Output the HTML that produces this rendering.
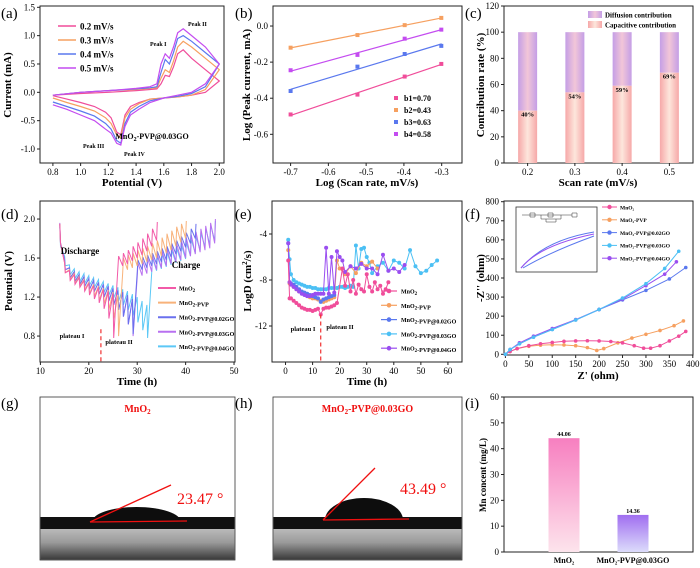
<!DOCTYPE html>
<html><head><meta charset="utf-8"><style>
html,body{margin:0;padding:0;background:#fff;}
svg{display:block;font-family:"Liberation Serif",serif;}
</style></head><body>
<svg id="fig" width="700" height="568" viewBox="0 0 700 568" xmlns="http://www.w3.org/2000/svg">
<defs>
<linearGradient id="capG" x1="0" x2="1" y1="0" y2="0"><stop offset="0" stop-color="#f6a8a8"/><stop offset="0.5" stop-color="#fde6dc"/><stop offset="1" stop-color="#f6a8a8"/></linearGradient>
<linearGradient id="difG" x1="0" x2="1" y1="0" y2="0"><stop offset="0" stop-color="#c49ee6"/><stop offset="0.5" stop-color="#f2c6d8"/><stop offset="1" stop-color="#c49ee6"/></linearGradient>
<linearGradient id="mnG" x1="0" x2="0" y1="0" y2="1"><stop offset="0" stop-color="#f77fc0"/><stop offset="1" stop-color="#fde4ec"/></linearGradient>
<linearGradient id="goG" x1="0" x2="0" y1="0" y2="1"><stop offset="0" stop-color="#a06ef0"/><stop offset="1" stop-color="#dcdcfb"/></linearGradient>
<linearGradient id="sub" x1="0" x2="0" y1="0" y2="1"><stop offset="0" stop-color="#f4f4f4"/><stop offset="0.3" stop-color="#b8b8b8"/><stop offset="0.6" stop-color="#9a9a9a"/><stop offset="1" stop-color="#3a3a3a"/></linearGradient>
</defs>
</svg>
<script>
// ---- data (a) CV ----
const cvFwdV=[0.8,1.0,1.2,1.4,1.5,1.55,1.58,1.61,1.64,1.67,1.70,1.74,1.8,1.9,2.0];
const cvBackV=[2.0,1.9,1.8,1.7,1.6,1.5,1.42,1.36,1.32,1.29,1.26,1.22,1.18,1.1,1.0,0.9,0.8];
const cvRates=['0.2 mV/s','0.3 mV/s','0.4 mV/s','0.5 mV/s'];
const cvFwd02=[-0.05,-0.02,0.0,0.03,0.05,0.06,0.15,0.3,0.28,0.45,0.68,0.75,0.6,0.4,0.2];
const cvBack02=[0.2,0.0,-0.05,-0.08,-0.1,-0.12,-0.18,-0.25,-0.4,-0.75,-0.7,-0.45,-0.35,-0.25,-0.18,-0.12,-0.06];
const cvFwd03=[-0.05,0.0,0.03,0.05,0.07,0.08,0.25,0.4,0.35,0.55,0.8,0.9,0.8,0.6,0.4];
const cvBack03=[0.4,0.05,-0.05,-0.08,-0.1,-0.12,-0.2,-0.3,-0.45,-0.8,-0.75,-0.55,-0.45,-0.33,-0.25,-0.18,-0.1];
const cvFwd04=[-0.05,0.0,0.03,0.06,0.08,0.1,0.35,0.58,0.5,0.7,0.95,1.0,0.9,0.7,0.5];
const cvBack04=[0.5,0.1,-0.02,-0.07,-0.1,-0.15,-0.25,-0.35,-0.55,-0.9,-0.85,-0.65,-0.55,-0.42,-0.33,-0.25,-0.17];
const cvFwd05=[-0.05,0.0,0.03,0.07,0.1,0.15,0.5,0.68,0.6,0.8,1.05,1.12,1.0,0.8,0.5];
const cvBack05=[0.5,0.15,0.0,-0.05,-0.1,-0.18,-0.3,-0.4,-0.6,-0.93,-0.9,-0.72,-0.65,-0.5,-0.4,-0.3,-0.22];
// ---- (b) ----
const bX=[-0.7,-0.523,-0.398,-0.301];
const bLabels=['b1=0.70','b2=0.43','b3=0.63','b4=0.58'];
const b1=[-0.49,-0.38,-0.28,-0.21];
const b2=[-0.12,-0.05,0.005,0.045];
const b3=[-0.36,-0.225,-0.155,-0.11];
const b4=[-0.245,-0.16,-0.07,-0.02];
// ---- (c) ----
const cCats=['0.2','0.3','0.4','0.5'];
const cCap=[40,54,59,69];
// ---- (d) GITT ----
const dNames=['MnO2','MnO2-PVP','MnO2-PVP@0.02GO','MnO2-PVP@0.03GO','MnO2-PVP@0.04GO'];
const dT1=[14,15,16,17,18,19,20,21,22,23,24,25,26,27,28,29,30,31,32,33,34];
const dR1=[1.95,1.55,1.47,1.43,1.40,1.37,1.34,1.32,1.30,1.28,1.26,1.24,1.50,1.52,1.54,1.57,1.60,1.63,1.67,1.72,1.78];
const dP1=[1.75,1.45,1.37,1.33,1.30,1.26,1.22,1.18,1.14,1.08,0.98,0.78,1.62,1.65,1.68,1.72,1.76,1.80,1.85,1.90,1.97];
const dT2=[14,15,16,17,18,19,20,21,22,23,24,25,26,27,28,29,30,31,32,33,34,35,36,37,38,39,40];
const dR2=[1.95,1.55,1.48,1.44,1.41,1.38,1.35,1.33,1.31,1.29,1.27,1.25,1.22,1.45,1.48,1.50,1.52,1.54,1.56,1.58,1.60,1.62,1.65,1.68,1.72,1.76,1.80];
const dP2=[1.75,1.45,1.38,1.34,1.31,1.28,1.24,1.21,1.17,1.13,1.07,0.98,0.80,1.60,1.63,1.65,1.68,1.70,1.72,1.75,1.78,1.81,1.85,1.88,1.92,1.95,1.98];
const dT3=[14,15,16,17,18,19,20,21,22,23,24,25,26,27,28,29,30,31,32,33,34,35,36,37,38,39,40,41,42];
const dR3=[1.95,1.58,1.50,1.46,1.43,1.41,1.39,1.37,1.35,1.33,1.31,1.29,1.27,1.25,1.22,1.18,1.45,1.48,1.50,1.52,1.54,1.56,1.58,1.61,1.64,1.67,1.71,1.75,1.80];
const dP3=[1.75,1.48,1.40,1.36,1.33,1.31,1.28,1.26,1.23,1.20,1.16,1.12,1.07,1.00,0.92,0.82,1.58,1.61,1.63,1.65,1.67,1.70,1.72,1.75,1.78,1.82,1.86,1.90,1.95];
const dT4=[14,15,16,17,18,19,20,21,22,23,24,25,26,27,28,29,30,31,32,33,34,35,36,37,38,39,40,41,42,43,44,45,46];
const dR4=[1.96,1.58,1.50,1.46,1.43,1.41,1.39,1.37,1.35,1.33,1.31,1.29,1.27,1.25,1.22,1.18,1.40,1.42,1.44,1.46,1.48,1.50,1.52,1.54,1.56,1.58,1.60,1.62,1.64,1.66,1.68,1.70,1.75];
const dP4=[1.76,1.48,1.40,1.36,1.33,1.31,1.28,1.26,1.23,1.20,1.16,1.12,1.07,1.00,0.92,0.80,1.55,1.57,1.60,1.62,1.64,1.67,1.70,1.72,1.75,1.78,1.81,1.84,1.87,1.90,1.93,1.96,2.00];
const dT5=[14,15,16,17,18,19,20,21,22,23,24,25,26,27,28,29,30,31,32,33,34,35,36,37,38,39,40,41,42,43,44,45,46];
const dR5=[1.92,1.62,1.53,1.49,1.46,1.44,1.42,1.40,1.38,1.36,1.34,1.32,1.30,1.28,1.26,1.23,1.20,1.16,1.12,1.45,1.47,1.49,1.51,1.53,1.55,1.57,1.59,1.62,1.65,1.68,1.71,1.74,1.78];
const dP5=[1.72,1.52,1.43,1.39,1.36,1.34,1.32,1.30,1.28,1.25,1.22,1.19,1.16,1.12,1.07,1.01,0.94,0.86,0.78,1.60,1.62,1.64,1.66,1.68,1.70,1.73,1.76,1.79,1.82,1.86,1.90,1.94,1.98];
// ---- (e) logD ----
const eT1=[1,1.5,2,3,4,5,6,7,8,9,10,11,12,13,14,15,16,17,18,19,21,22,23,24,25,26,27,28,29,30,31,32,33,34,35,36,37,38];
const eV1=[-6.3,-9.6,-9.6,-9.8,-10.0,-10.2,-10.4,-10.5,-10.6,-10.6,-10.7,-10.6,-10.5,-11.0,-10.5,-10.4,-10.4,-10.3,-10.2,-10.0,-7.0,-8.5,-7.5,-9.0,-8.0,-9.2,-8.4,-8.8,-9.0,-7.5,-8.6,-9.0,-8.2,-8.8,-8.5,-9.2,-8.8,-8.2];
const eT2=[1,1.5,2,3,4,5,6,7,8,9,10,11,12,13,14,15,16,17,18,19,20,22,24,26,28,30,32,34];
const eV2=[-5.4,-8.3,-8.4,-8.6,-8.8,-9.0,-9.1,-9.2,-9.4,-9.5,-9.6,-9.6,-9.7,-9.8,-9.9,-9.8,-9.7,-9.6,-9.5,-6.3,-7.0,-7.5,-6.8,-7.4,-6.5,-6.8,-6.4,-7.0];
const eT3=[1,1.5,2,3,4,5,6,7,8,9,10,11,12,13,14,15,16,17,18];
const eV3=[-4.8,-8.2,-8.3,-8.4,-8.6,-8.8,-9.0,-9.1,-9.2,-9.3,-9.4,-9.5,-9.6,-9.9,-9.7,-9.6,-9.5,-9.4,-9.3];
const eT4=[1,1.5,2,3,4,5,6,7,8,9,10,11,12,13,14,15,16,17,18,19,20,21,22,23,24,25,26,27,28,29,30,31,32,34,36,38,40,42,44,46,48,50,52,54,56];
const eV4=[-4.5,-6.2,-7.5,-8.0,-8.2,-8.3,-8.4,-8.5,-8.6,-8.6,-8.7,-8.7,-8.8,-8.8,-8.8,-8.8,-8.7,-8.7,-8.7,-8.7,-8.6,-8.6,-8.7,-8.6,-8.5,-8.6,-5.0,-7.0,-5.3,-5.2,-6.0,-6.5,-7.4,-6.8,-6.5,-7.2,-6.3,-6.5,-7.0,-5.4,-6.8,-7.4,-7.2,-6.7,-6.3];
const eT5=[1,1.5,2,3,4,5,6,7,8,9,10,11,12,13,14,15,16,17,18,19,20,21,22,24,26,28,30,32,34,36,38,40,42,44];
const eV5=[-4.8,-8.2,-8.4,-8.6,-8.8,-9.0,-9.2,-9.3,-9.4,-9.4,-9.3,-9.2,-9.2,-9.2,-9.2,-5.2,-9.2,-6.0,-9.1,-5.5,-6.0,-6.3,-7.3,-6.8,-7.0,-6.6,-7.0,-7.0,-7.5,-5.8,-7.2,-7.0,-7.3,-6.7];
// ---- (f) Nyquist ----
const fX1=[0,10,25,50,75,100,125,150,175,200,225,250,275,295,310,330,350,370,385];
const fY1=[0,15,30,45,55,62,68,70,71,70,67,60,45,32,32,45,70,95,120];
const fX2=[0,10,25,50,75,100,125,150,175,195,210,240,270,300,330,360,380];
const fY2=[0,15,30,42,48,50,49,45,35,20,30,60,85,105,125,150,175];
const fX3=[0,10,30,60,100,150,200,250,300,350,385];
const fY3=[0,25,55,90,130,180,235,285,335,395,455];
const fX4=[0,10,30,60,100,150,200,250,300,340,370];
const fY4=[0,25,55,90,130,180,235,295,370,450,540];
const fX5=[0,10,30,60,100,150,200,250,300,340,365];
const fY5=[0,25,60,95,135,182,235,290,360,420,485];
// ---- (i) ----
const iCats=['MnO₂','MnO₂-PVP@0.03GO'];
const iVals=[44.06,14.36];

const svg=document.getElementById('fig');
const NS='http://www.w3.org/2000/svg';
function mk(tag,attrs,name,parent){
  const el=document.createElementNS(NS,tag);
  for(const k in attrs) el.setAttribute(k,attrs[k]);
  
  
  (parent||svg).appendChild(el);
  return el;
}
function txt(x,y,s,name,o){
  o=o||{};
  const t=mk('text',{x:x,y:y,'font-size':o.fs||9,'text-anchor':o.anchor||'middle','font-weight':o.fw||'normal',fill:o.fill||'#000'},name);
  if(o.rot!==undefined) t.setAttribute('transform','rotate('+o.rot+' '+x+' '+y+')');
  t.innerHTML=s;
  return t;
}
function lin(d0,d1,r0,r1){return v=>r0+(v-d0)*(r1-r0)/(d1-d0);}
function frame(b,name){mk('rect',{x:b.l,y:b.t,width:b.r-b.l,height:b.b-b.t,fill:'none',stroke:'#222','stroke-width':1},name);}
function xticks(b,vals,sx,fmt,name){vals.forEach(v=>{const x=sx(v);mk('line',{x1:x,x2:x,y1:b.b,y2:b.b+3,stroke:'#222'},name+'-tick');txt(x,b.b+12,fmt(v),name+'-label');});}
function yticks(b,vals,sy,fmt,name){vals.forEach(v=>{const y=sy(v);mk('line',{x1:b.l-3,x2:b.l,y1:y,y2:y,stroke:'#222'},name+'-tick');txt(b.l-5,y+3,fmt(v),name+'-label',{anchor:'end'});});}
function poly(xs,ys,sx,sy,col,name,w){const d=xs.map((x,i)=>(i?'L':'M')+sx(x).toFixed(1)+' '+sy(ys[i]).toFixed(1)).join(' ');return mk('path',{d:d,fill:'none',stroke:col,'stroke-width':w||1.2},name);}
function plabel(x,y,s){txt(x,y,s,'panel-label-'+s.replace(/[()]/g,''),{fs:15,anchor:'start'});}
const cPink='#f04d9a',cOr='#f6a060',cBlue='#5a78ee',cPur='#c44cf0',cCyan='#4cc0f4',cPurD='#9a4ef0';

// ===== (a) =====
(function(){
const b={l:40,r:224,t:6,b:163};
const sx=lin(0.707,2.034,b.l,b.r), sy=lin(1.523,-1.247,b.t,b.b);
frame(b,'cv-plot-frame');
xticks(b,[0.8,1.0,1.2,1.4,1.6,1.8,2.0],sx,v=>v.toFixed(1),'cv-x');
yticks(b,[-1.0,-0.5,0,0.5,1.0,1.5],sy,v=>v.toFixed(1),'cv-y');
const cols=[cPink,cOr,cBlue,cPur];
const F=[cvFwd02,cvFwd03,cvFwd04,cvFwd05], B=[cvBack02,cvBack03,cvBack04,cvBack05];
for(let k=0;k<4;k++){
  const xs=cvFwdV.concat(cvBackV), ys=F[k].concat(B[k]);
  poly(xs,ys,sx,sy,cols[k],'cv-curve-'+cvRates[k].replace(/[ \/.]/g,''));
  const ly=26+k*14;
  mk('line',{x1:58,x2:76,y1:ly,y2:ly,stroke:cols[k],'stroke-width':1.5},'legend-line');
  txt(80,ly+3.5,cvRates[k],'legend-entry',{anchor:'start',fw:'bold',fs:9});
}
txt(132,186,'Potential (V)','x-axis-title',{fw:'bold',fs:11});
txt(11,85,'Current (mA)','y-axis-title',{fw:'bold',fs:11,rot:-90});
txt(152,139,'MnO<tspan font-size="6" dy="2">2</tspan><tspan dy="-2">-PVP@0.03GO</tspan>','sample-label',{fw:'bold',fs:8});
txt(188,26,'Peak II','peak-label',{fs:6,fw:'bold',anchor:'start'});
txt(150,46,'Peak I','peak-label',{fs:6,fw:'bold',anchor:'start'});
txt(83,148,'Peak III','peak-label',{fs:6,fw:'bold',anchor:'start'});
txt(124,156,'Peak IV','peak-label',{fs:6,fw:'bold',anchor:'start'});
plabel(1,18,'(a)');
})();

// ===== (b) =====
(function(){
const b={l:273,r:462,t:6,b:163};
const sx=lin(-0.7466,-0.2462,b.l,b.r), sy=lin(0.111,-0.759,b.t,b.b);
frame(b,'b-plot-frame');
xticks(b,[-0.7,-0.6,-0.5,-0.4,-0.3],sx,v=>v.toFixed(1),'b-x');
yticks(b,[0,-0.2,-0.4,-0.6],sy,v=>v.toFixed(1),'b-y');
const S=[b1,b2,b3,b4], cols=[cPink,cOr,cBlue,cPur];
S.forEach((ys,k)=>{
  const n=ys.length, mx=bX.reduce((a,c)=>a+c,0)/n, my=ys.reduce((a,c)=>a+c,0)/n;
  let num=0,den=0; bX.forEach((x,i)=>{num+=(x-mx)*(ys[i]-my);den+=(x-mx)*(x-mx);});
  const m=num/den, c=my-m*mx;
  mk('line',{x1:sx(-0.7),y1:sy(m*-0.7+c),x2:sx(-0.3),y2:sy(m*-0.3+c),stroke:cols[k],'stroke-width':1.2},'fit-line-b'+(k+1));
  bX.forEach((x,i)=>mk('rect',{x:sx(x)-2,y:sy(ys[i])-2,width:4,height:4,fill:cols[k]},'point-b'+(k+1)));
  mk('rect',{x:394,y:96+k*12,width:4,height:4,fill:cols[k]},'legend-marker');
  txt(404,101+k*12,bLabels[k],'legend-entry',{anchor:'start',fw:'bold',fs:8});
});
txt(367,186,'Log (Scan rate, mV/s)','x-axis-title',{fw:'bold',fs:11});
txt(250,85,'Log (Peak current, mA)','y-axis-title',{fw:'bold',fs:11,rot:-90});
plabel(235,18,'(b)');
})();

// ===== (c) =====
(function(){
const b={l:504,r:693,t:6,b:163};
const sy=lin(0,120,b.b,b.t), bw=(b.r-b.l)/cCats.length;
frame(b,'c-plot-frame');
yticks(b,[0,20,40,60,80,100,120],sy,v=>v,'c-y');
cCats.forEach((c,i)=>{
  const cx=b.l+(i+0.5)*bw, w=19;
  mk('rect',{x:cx-w/2,y:sy(100),width:w,height:sy(cCap[i])-sy(100),fill:'url(#difG)'},'bar-diffusion-'+c);
  mk('rect',{x:cx-w/2,y:sy(cCap[i]),width:w,height:sy(0)-sy(cCap[i]),fill:'url(#capG)'},'bar-capacitive-'+c);
  txt(cx,sy(cCap[i])+6,cCap[i]+'%','bar-value',{fs:6.5,fw:'bold'});
  mk('line',{x1:cx,x2:cx,y1:b.b,y2:b.b+3,stroke:'#222'},'c-x-tick');
  txt(cx,b.b+12,c,'c-x-label');
});
mk('rect',{x:588,y:11,width:14,height:7,fill:'url(#difG)'},'legend-swatch-diffusion');
txt(605,17.5,'Diffusion contribution','legend-entry',{anchor:'start',fw:'bold',fs:7});
mk('rect',{x:588,y:21,width:14,height:7,fill:'url(#capG)'},'legend-swatch-capacitive');
txt(605,27.5,'Capacitive contribution','legend-entry',{anchor:'start',fw:'bold',fs:7});
txt(598,186,'Scan rate (mV/s)','x-axis-title',{fw:'bold',fs:11});
txt(484,85,'Contribution rate (%)','y-axis-title',{fw:'bold',fs:11,rot:-90});
plabel(465,18,'(c)');
})();

// ===== (d) =====
(function(){
const b={l:40,r:235,t:201,b:362};
const sx=lin(10,50.2,b.l+0.4,b.r), sy=lin(2.185,0.534,b.t,b.b);
frame(b,'d-plot-frame');
xticks(b,[10,20,30,40,50],sx,v=>v,'d-x');
yticks(b,[0.8,1.2,1.6,2.0],sy,v=>v.toFixed(1),'d-y');
const T=[dT1,dT2,dT3,dT4,dT5],R=[dR1,dR2,dR3,dR4,dR5],P=[dP1,dP2,dP3,dP4,dP5];
const cols=['#f25aa8','#f8b27a','#6a70ee','#b870f0','#5cc8f6'];
for(let k=4;k>=0;k--){
  const xs=[],ys=[],n=Math.min(T[k].length,R[k].length,P[k].length);
  for(let i=0;i<n;i++){xs.push(T[k][i]);ys.push(R[k][i]);xs.push(T[k][i]+0.15);ys.push(P[k][i]);}
  poly(xs,ys,sx,sy,cols[k],'gitt-curve-'+dNames[k],1);
}
mk('line',{x1:sx(22.5),x2:sx(22.5),y1:sy(0.87),y2:b.b,stroke:'#f03030','stroke-dasharray':'4,3','stroke-width':1.2},'plateau-divider');
txt(80,254,'Discharge','annotation',{fw:'bold',fs:9});
txt(186,268,'Charge','annotation',{fw:'bold',fs:9});
txt(72,338,'plateau I','annotation',{fw:'bold',fs:6.5});
txt(119,344,'plateau II','annotation',{fw:'bold',fs:6.5});
dNames.forEach((n,k)=>{
  const y=288+k*14.6;
  mk('line',{x1:158,x2:176,y1:y,y2:y,stroke:cols[k],'stroke-width':2},'legend-line');
  txt(179,y+2.5,n.replace('MnO2','MnO<tspan font-size="5" dy="1.5">2</tspan><tspan dy="-1.5"></tspan>'),'legend-entry',{anchor:'start',fw:'bold',fs:6});
});
txt(137,385,'Time (h)','x-axis-title',{fw:'bold',fs:11});
txt(12,281,'Potential (V)','y-axis-title',{fw:'bold',fs:11,rot:-90});
plabel(1,219,'(d)');
})();

// ===== (e) =====
(function(){
const b={l:272,r:462,t:201,b:362};
const sx=lin(-5,65.2,b.l,b.r), sy=lin(-1.13,-15.13,b.t,b.b);
frame(b,'e-plot-frame');
xticks(b,[0,10,20,30,40,50,60],sx,v=>v,'e-x');
yticks(b,[-4,-8,-12],sy,v=>v,'e-y');
const T=[eT1,eT2,eT3,eT4,eT5],V=[eV1,eV2,eV3,eV4,eV5];
const cols=[cPink,cOr,cBlue,cCyan,cPurD];
const order=[3,1,2,4,0];
order.forEach(k=>{
  const n=Math.min(T[k].length,V[k].length);
  poly(T[k].slice(0,n),V[k].slice(0,n),sx,sy,cols[k],'logd-line-'+dNames[k],1);
  for(let i=0;i<n;i++) mk('circle',{cx:sx(T[k][i]),cy:sy(V[k][i]),r:2,fill:cols[k]},'logd-point');
});
mk('line',{x1:sx(13),x2:sx(13),y1:sy(-11),y2:b.b,stroke:'#f03030','stroke-dasharray':'4,3','stroke-width':1.2},'plateau-divider');
txt(303,331,'plateau I','annotation',{fw:'bold',fs:6.5});
txt(340,329,'plateau II','annotation',{fw:'bold',fs:6.5});
dNames.forEach((n,k)=>{
  const y=291+k*14.3;
  mk('line',{x1:381,x2:397,y1:y,y2:y,stroke:cols[k],'stroke-width':1.2},'legend-line');
  mk('circle',{cx:389,cy:y,r:2.3,fill:cols[k]},'legend-marker');
  txt(401,y+2.5,n.replace('MnO2','MnO<tspan font-size="5" dy="1.5">2</tspan><tspan dy="-1.5"></tspan>'),'legend-entry',{anchor:'start',fw:'bold',fs:6});
});
txt(367,385,'Time (h)','x-axis-title',{fw:'bold',fs:11});
txt(251,281,'LogD (cm<tspan font-size="7" dy="-4">2</tspan><tspan dy="4">/s)</tspan>','y-axis-title',{fw:'bold',fs:11,rot:-90});
plabel(235,219,'(e)');
})();

// ===== (f) =====
(function(){
const b={l:504,r:693,t:201,b:355};
const sx=lin(0,400,505.4,692.8), sy=lin(0,800,354.3,201.7);
frame(b,'f-plot-frame');
xticks(b,[0,50,100,150,200,250,300,350,400],sx,v=>v,'f-x');
yticks(b,[0,100,200,300,400,500,600,700,800],sy,v=>v,'f-y');
const X=[fX1,fX2,fX3,fX4,fX5],Y=[fY1,fY2,fY3,fY4,fY5];
const cols=[cPink,cOr,cBlue,cCyan,cPurD];
[1,0,2,4,3].forEach(k=>{
  poly(X[k],Y[k],sx,sy,cols[k],'nyquist-line-'+dNames[k],1);
  X[k].forEach((x,i)=>mk('circle',{cx:sx(x),cy:sy(Y[k][i]),r:1.8,fill:cols[k]},'nyquist-point'));
});
// inset
mk('rect',{x:516,y:207,width:81,height:65,fill:'#fff',stroke:'#333','stroke-width':0.8},'inset-frame');
mk('path',{d:'M521 268 Q545 240 594 232',fill:'none',stroke:cBlue,'stroke-width':1},'inset-curve');
mk('path',{d:'M521 268 Q540 245 594 234',fill:'none',stroke:cPurD,'stroke-width':1},'inset-curve');
mk('path',{d:'M523 268 Q550 252 594 236',fill:'none',stroke:cBlue,'stroke-width':1},'inset-curve');
mk('path',{d:'M522 215 H572 M530 213 h5 v4 h-5z M548 213 h5 v4 h-5z M541 215 v4 h20 v-4 M546 219 v3 h10 v-3 M572 213 h5 v4 h-5z',fill:'none',stroke:'#333','stroke-width':0.5},'equivalent-circuit');
const names=['MnO₂','MnO₂-PVP','MnO₂-PVP@0.02GO','MnO₂-PVP@0.03GO','MnO₂-PVP@0.04GO'];
names.forEach((n,k)=>{
  const y=207+k*12.8;
  mk('line',{x1:602,x2:617,y1:y,y2:y,stroke:cols[k],'stroke-width':1},'legend-line');
  mk('circle',{cx:609.5,cy:y,r:2.2,fill:cols[k]},'legend-marker');
  txt(620,y+2.3,n,'legend-entry',{anchor:'start',fw:'bold',fs:5.5});
});
txt(598,379,'Z\' (ohm)','x-axis-title',{fw:'bold',fs:11});
txt(484,278,'-Z\'\' (ohm)','y-axis-title',{fw:'bold',fs:11,rot:-90});
plabel(465,219,'(f)');
})();

// ===== (g),(h) photos =====
function photo(l,r,dl,dr,dTop,base,ang,label,lineEnd){
  const t=397,bt=560;
  mk('rect',{x:l,y:t,width:r-l,height:bt-t,fill:'#fff',stroke:'#333','stroke-width':0.8},'photo-frame');
  mk('rect',{x:l+0.5,y:517,width:r-l-1,height:bt-517-0.5,fill:'url(#sub)'},'substrate');
  mk('rect',{x:l+0.5,y:517,width:r-l-1,height:12,fill:'#111'},'substrate-edge');
  const cx=(dl+dr)/2,rx=(dr-dl)/2;
  mk('path',{d:'M'+dl+' '+base+' A'+rx+' '+(base-dTop)+' 0 0 1 '+dr+' '+base+' Z',fill:'#0d0d0d'},'droplet');
  mk('line',{x1:dl-2,y1:base,x2:dr+6,y2:base-1,stroke:'#f01010','stroke-width':1.3},'baseline');
  mk('line',{x1:dl-2,y1:base,x2:lineEnd[0],y2:lineEnd[1],stroke:'#f01010','stroke-width':1.3},'tangent-line');
  txt(ang[0],ang[1],ang[2],'contact-angle-value',{fs:16,anchor:'start',fill:'#f01010'});
  txt((l+r)/2,412,label,'photo-title',{fw:'bold',fs:10,fill:'#f01010'});
}
photo(40,235,92,181,507,522,[177,504,'23.47 °'],'MnO<tspan font-size="7" dy="2">2</tspan>',[171,485]);
photo(273,462,325,403,498,520,[400,494,'43.49 °'],'MnO<tspan font-size="7" dy="2">2</tspan><tspan dy="-2">-PVP@0.03GO</tspan>',[375,468]);
plabel(1,408,'(g)');
plabel(235,408,'(h)');

// ===== (i) =====
(function(){
const b={l:504,r:693,t:397,b:552};
const sy=lin(0,60,b.b,b.t);
frame(b,'i-plot-frame');
yticks(b,[0,10,20,30,40,50,60],sy,v=>v,'i-y');
const centers=[564,633], fills=['url(#mnG)','url(#goG)'];
iVals.forEach((v,i)=>{
  mk('rect',{x:centers[i]-15.5,y:sy(v),width:31,height:sy(0)-sy(v),fill:fills[i]},'bar-'+(i?'mno2-pvp-go':'mno2'));
  txt(centers[i],sy(v)-2,v.toFixed(2),'bar-value',{fs:6,fw:'bold'});
  txt(centers[i],563,iCats[i],'i-x-label',{fs:8,fw:'bold'});
});
txt(486,475,'Mn concent (mg/L)','y-axis-title',{fw:'bold',fs:9,rot:-90});
plabel(465,408,'(i)');
})();
</script>
</body></html>
